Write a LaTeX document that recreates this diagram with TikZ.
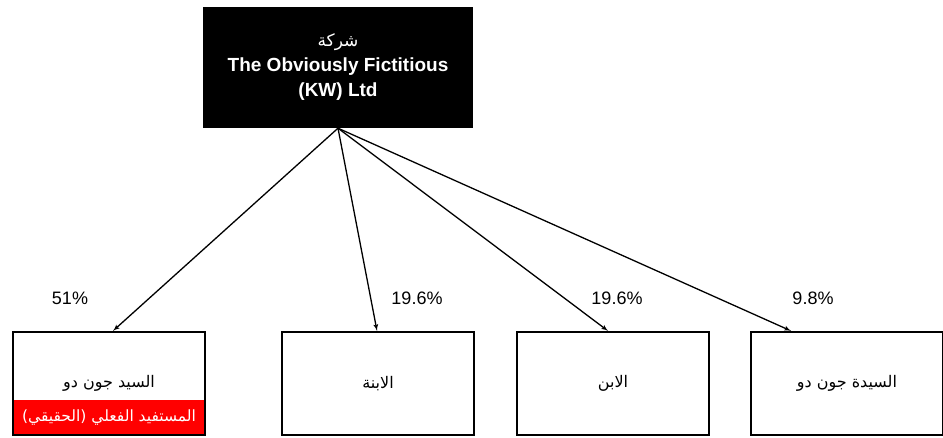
\documentclass[tikz,border=0pt]{standalone}
\usepackage{fontspec}
\setmainfont{Liberation Sans}
\newfontfamily\arabicfont[Script=Arabic]{DejaVu Sans}
\TeXXeTstate=1
\usetikzlibrary{arrows}

\begin{document}
\begin{tikzpicture}[x=1pt,y=-1pt]

\tikzset{holder/.style = {shape=rectangle,draw,line width=2.2pt,minimum width=192pt,minimum height=103pt,font=\arabicfont\fontsize{16}{19}\selectfont}}
\tikzset{share/.style = {font=\fontsize{18}{22}\selectfont}}
\tikzset{edge/.style = {->,> = latex',line width=1.3pt}}

\useasboundingbox (0,0) rectangle (943,438);

% company
\node[fill=black, text=white, align=center, minimum width=270pt, minimum height=121pt,
  font=\bfseries\fontsize{19}{25}\selectfont] (co) at (338,67.5)
  {{\arabicfont\mdseries\fontsize{17}{25}\selectfont\beginR شركة\endR}\\The Obviously Fictitious\\(KW) Ltd};

% shareholders
\node[fill=red, text=white, minimum width=192pt, minimum height=35pt,
  font=\arabicfont\fontsize{15.5}{18}\selectfont] (bo) at (109,417.5) {\beginR المستفيد الفعلي (الحقيقي)\endR};
\node[holder] (mr) at (109,383.5) {\beginR السيد جون دو\endR};
\node[holder] (daughter) at (378,383.5) {\beginR الابنة\endR};
\node[holder] (son) at (613,383.5) {\beginR الابن\endR};
\node[holder] (mrs) at (847,383.5) {\beginR السيدة جون دو\endR};

% percentages
\node[share] (p1) at (70,298) {51\%};
\node[share] (p2) at (417,298) {19.6\%};
\node[share] (p3) at (617,298) {19.6\%};
\node[share] (p4) at (813,298) {9.8\%};

%edges
\draw[edge] (co.south) -- ([xshift=4pt]mr.north);
\draw[edge] (co.south) -- ([xshift=-1pt]daughter.north);
\draw[edge] (co.south) -- ([xshift=-5pt]son.north);
\draw[edge] (co.south) -- ([xshift=-56pt]mrs.north);

\end{tikzpicture}
\end{document}
